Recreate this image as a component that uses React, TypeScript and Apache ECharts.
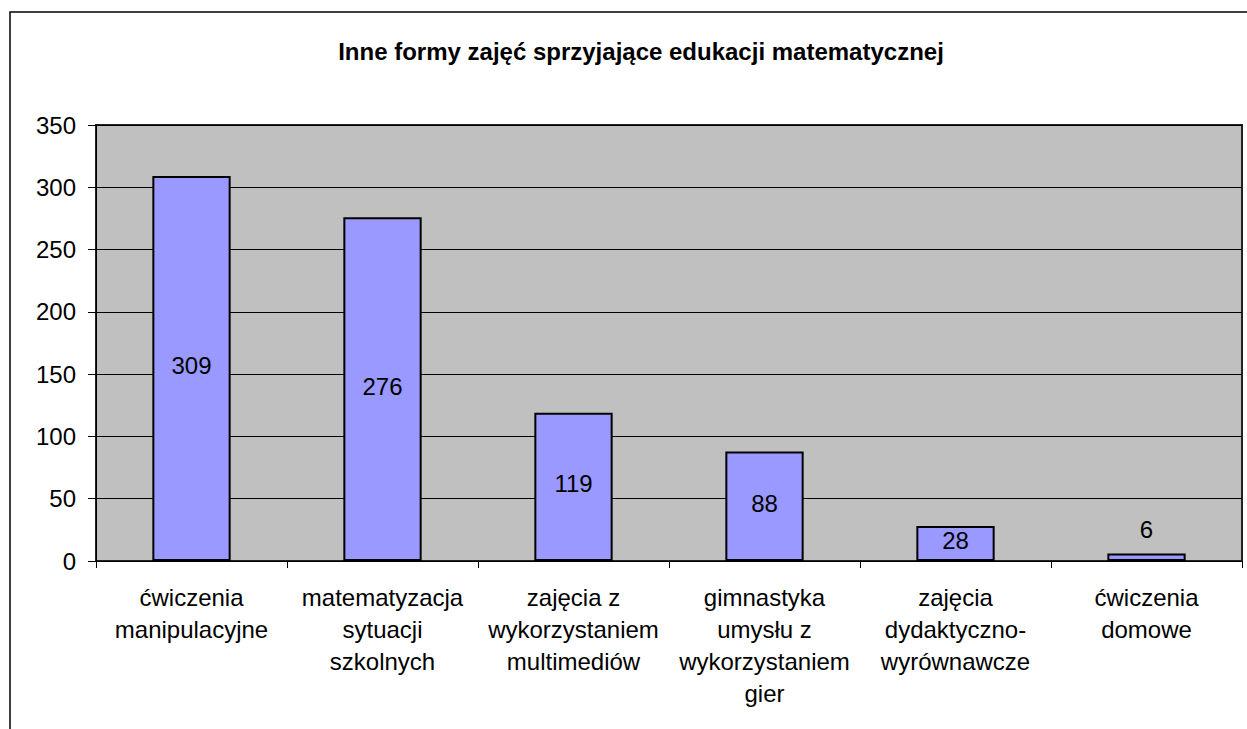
import React, { useEffect, useRef } from "react";
import * as echarts from "echarts";

const titleText = "Inne formy zajęć sprzyjające edukacji matematycznej";
const categories = [
  "ćwiczenia\nmanipulacyjne",
  "matematyzacja\nsytuacji\nszkolnych",
  "zajęcia z\nwykorzystaniem\nmultimediów",
  "gimnastyka\numysłu z\nwykorzystaniem\ngier",
  "zajęcia\ndydaktyczno-\nwyrównawcze",
  "ćwiczenia\ndomowe",
];
const values = [309, 276, 119, 88, 28, 6];
const labelOutside = [false, false, false, false, false, true];

export default function App() {
  const ref = useRef<HTMLDivElement>(null);
  useEffect(() => {
    const chart = echarts.init(ref.current!, null, { renderer: "svg" });
    const font = "'Liberation Sans', Arial, sans-serif";
    chart.setOption({
      animation: false,
      backgroundColor: "#fff",
      title: {
        text: titleText,
        left: 636,
        top: 34,
        textAlign: "center",
        textStyle: { fontFamily: font, fontSize: 24, fontWeight: "bold", color: "#000" },
      },
      graphic: [
        {
          type: "rect",
          shape: { x: 10, y: 12, width: 1300, height: 800 },
          style: { fill: "none", stroke: "#000", lineWidth: 1.5 },
          silent: true,
        },
      ],
      grid: {
        left: 96,
        top: 125,
        width: 1146,
        height: 436,
        show: true,
        backgroundColor: "#C0C0C0",
        borderColor: "#222",
        borderWidth: 2,
      },
      xAxis: {
        type: "category",
        data: categories,
        boundaryGap: true,
        axisLine: { show: true, lineStyle: { color: "#000", width: 1 } },
        axisTick: { show: true, alignWithLabel: false, length: 7, lineStyle: { color: "#000" } },
        axisLabel: {
          interval: 0,
          margin: 20,
          fontFamily: font,
          fontSize: 24,
          color: "#000",
          lineHeight: 32,
        },
      },
      yAxis: {
        type: "value",
        min: 0,
        max: 350,
        interval: 50,
        axisLine: { show: true, lineStyle: { color: "#000", width: 1 } },
        axisTick: { show: true, length: 8, lineStyle: { color: "#000" } },
        axisLabel: { fontFamily: font, fontSize: 24, color: "#000", margin: 20 },
        splitLine: { show: true, lineStyle: { color: "#000", width: 1 } },
      },
      series: [
        {
          type: "bar",
          barWidth: "41%",
          data: values.map((v, i) => ({
            value: v,
            label: {
              show: true,
              position: labelOutside[i] ? "top" : "inside",
              distance: labelOutside[i] ? 12 : 5,
              offset: labelOutside[i] ? [0, 0] : [0, -3],
              fontFamily: font,
              fontSize: 24,
              color: "#000",
            },
          })),
          itemStyle: { color: "#9999FF", borderColor: "#000", borderWidth: 2 },
        },
      ],
    });
    return () => chart.dispose();
  }, []);
  return (
    <div
      ref={ref}
      style={{ position: "fixed", left: 0, top: 0, width: 1247, height: 729 }}
    />
  );
}
